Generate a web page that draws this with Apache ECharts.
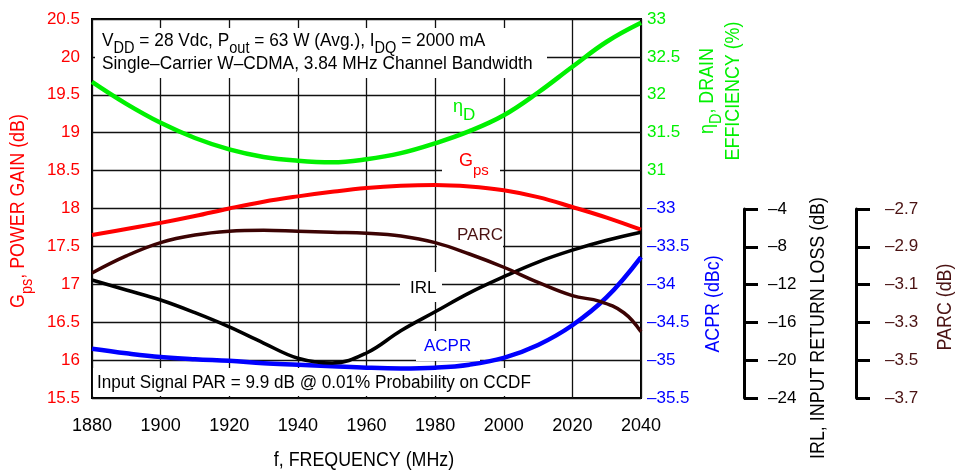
<!DOCTYPE html>
<html><head><meta charset="utf-8">
<script src="https://cdn.jsdelivr.net/npm/echarts@6/dist/echarts.min.js"></script>
<style>html,body{margin:0;padding:0;background:#fff}#c{width:958px;height:470px}</style>
</head><body><div id="c"></div>
<script>
// ---- data ----
const freq = [1880,1890,1900,1910,1920,1930,1940,1950,1960,1970,1980,1990,2000,2010,2020,2030,2040];
const gps  = [17.65,17.73,17.81,17.90,18.00,18.09,18.16,18.22,18.27,18.30,18.31,18.29,18.24,18.15,18.02,17.88,17.72];
const eff  = [32.17,31.88,31.63,31.43,31.28,31.18,31.13,31.11,31.15,31.23,31.36,31.52,31.73,32.03,32.37,32.70,32.95];
const irl  = [-11.55,-12.6,-13.66,-15.0,-16.5,-18.2,-19.8,-20.3,-19.25,-16.9,-14.9,-12.9,-11.2,-9.65,-8.4,-7.35,-6.5];
const acpr = [-34.85,-34.91,-34.96,-34.99,-35.01,-35.04,-35.06,-35.08,-35.10,-35.11,-35.10,-35.06,-34.97,-34.80,-34.54,-34.17,-33.64];
const parcFreq = [1880,1890,1900,1910,1920,1930,1940,1950,1960,1970,1980,1990,2000,2010,2020,2028,2035,2040];
const parc = [-3.04,-2.95,-2.88,-2.84,-2.82,-2.815,-2.82,-2.825,-2.83,-2.845,-2.88,-2.94,-3.01,-3.09,-3.16,-3.19,-3.25,-3.35];
const xTicks = [1880,1900,1920,1940,1960,1980,2000,2020,2040];
const irlTicks = [-24,-20,-16,-12,-8,-4];
const parcTicks = [-3.7,-3.5,-3.3,-3.1,-2.9,-2.7];

const RED='#ff0000', GREEN='#00f000', BLUE='#0000ff', BROWN='#3c0303', BROWNT='#4a1212';
const FONT='Liberation Sans, Arial, sans-serif';
const pair = (xs, ys) => xs.map((x,i)=>[x, ys[i]]);
const neg = v => (v<0?'\u2013':'') + Math.abs(v);

const chart = echarts.init(document.getElementById('c'), null, {renderer:'canvas'});
const lbl = (color, extra) => Object.assign({color, fontFamily:FONT, fontSize:17}, extra||{});
const subRich = (color, n, s, lh) => ({
  n:{fontFamily:FONT,fontSize:n,fill:color,lineHeight:lh,verticalAlign:'top'},
  s:{fontFamily:FONT,fontSize:s,fill:color,lineHeight:s,verticalAlign:'bottom'}
});
const TS = 0.85; // horizontal condensing of title text
const title = (x, y, text, color, rot) => ({type:'text', z:4, x, y, rotation: rot?Math.PI/2:0, scaleX:TS,
  style:{text, font:'21px '+FONT, fill:color, align:'center', verticalAlign:'middle'}});

const option = {
  animation:false,
  grid:[
    {left:92, right:317, top:19, bottom:72, show:true, borderColor:'#000', borderWidth:2, backgroundColor:'transparent'},
    {left:744, width:1, top:209, bottom:72},
    {left:856, width:1, top:209, bottom:72}
  ],
  xAxis:[
    {gridIndex:0, type:'value', min:xTicks[0], max:xTicks[xTicks.length-1], interval:20,
     axisLine:{show:false}, axisTick:{show:false},
     axisLabel:lbl('#000',{margin:19, fontSize:18, formatter:v=>String(v)}),
     splitLine:{show:true, lineStyle:{color:'#111', width:1.3}}},
    {gridIndex:1, type:'value', show:false, min:0, max:1},
    {gridIndex:2, type:'value', show:false, min:0, max:1}
  ],
  yAxis:[
    {gridIndex:0, type:'value', position:'left', min:15.5, max:20.5, interval:0.5,
     axisLine:{show:false}, axisTick:{show:false},
     axisLabel:lbl(RED,{margin:12, formatter:v=>String(v)}),
     splitLine:{show:true, lineStyle:{color:'#111', width:1.3}}},
    {gridIndex:0, type:'value', position:'right', min:28, max:33, interval:0.5,
     axisLine:{show:false}, axisTick:{show:false}, splitLine:{show:false},
     axisLabel:lbl(GREEN,{margin:6, formatter:v=> v>=30.999 ? String(v) : ''})},
    {gridIndex:0, type:'value', position:'right', min:-35.5, max:-30.5, interval:0.5,
     axisLine:{show:false}, axisTick:{show:false}, splitLine:{show:false},
     axisLabel:lbl(BLUE,{margin:6, formatter:v=> v<=-32.999 ? neg(v) : ''})},
    {gridIndex:0, type:'value', show:false, min:-24, max:16},
    {gridIndex:0, type:'value', show:false, min:-3.7, max:-1.7},
    {gridIndex:1, type:'value', position:'right', min:irlTicks[0], max:irlTicks[irlTicks.length-1], interval:4,
     axisLine:{show:true, lineStyle:{color:'#000', width:3}},
     axisTick:{show:true, length:14, lineStyle:{color:'#000', width:3}},
     splitLine:{show:false},
     axisLabel:lbl('#000',{margin:23, formatter:v=>neg(v)})},
    {gridIndex:2, type:'value', position:'right', min:parcTicks[0], max:parcTicks[parcTicks.length-1], interval:0.2,
     axisLine:{show:true, lineStyle:{color:'#000', width:3}},
     axisTick:{show:true, length:14, lineStyle:{color:'#000', width:3}},
     splitLine:{show:false},
     axisLabel:lbl(BROWNT,{margin:28, formatter:v=>(v<0?'\u2013':'')+Math.abs(v).toFixed(1)})}
  ],
  series:[
    {type:'line', name:'Gps', xAxisIndex:0, yAxisIndex:0, data:pair(freq,gps), smooth:0.4, showSymbol:false, lineStyle:{color:RED, width:4}, z:5},
    {type:'line', name:'Eff', xAxisIndex:0, yAxisIndex:1, data:pair(freq,eff), smooth:0.4, showSymbol:false, lineStyle:{color:GREEN, width:4.5}, z:5},
    {type:'line', name:'ACPR', xAxisIndex:0, yAxisIndex:2, data:pair(freq,acpr), smooth:0.4, showSymbol:false, lineStyle:{color:BLUE, width:4.5}, z:5},
    {type:'line', name:'IRL', xAxisIndex:0, yAxisIndex:3, data:pair(freq,irl), smooth:0.4, showSymbol:false, lineStyle:{color:'#000', width:3.5}, z:5},
    {type:'line', name:'PARC', xAxisIndex:0, yAxisIndex:4, data:pair(parcFreq,parc), smooth:0.4, showSymbol:false, lineStyle:{color:BROWN, width:3.5}, z:5}
  ],
  graphic:[
    // white label boxes hiding grid lines
    {type:'rect', z:3, shape:{x:95,y:28,width:452,height:50}, style:{fill:'#fff'}},
    {type:'rect', z:3, shape:{x:445,y:98,width:37,height:24}, style:{fill:'#fff'}},
    {type:'rect', z:3, shape:{x:442,y:153,width:58,height:27}, style:{fill:'#fff'}},
    {type:'rect', z:3, shape:{x:437,y:214,width:66,height:38}, style:{fill:'#fff'}},
    {type:'rect', z:3, shape:{x:400,y:272,width:42,height:30}, style:{fill:'#fff'}},
    {type:'rect', z:3, shape:{x:416,y:331,width:64,height:30}, style:{fill:'#fff'}},
    {type:'rect', z:3, shape:{x:93,y:368,width:452,height:28}, style:{fill:'#fff'}},
    // annotation texts
    {type:'text', z:4, x:102, y:31, scaleX:0.91, style:{text:'{n|V}{s|DD}{n| = 28 Vdc, P}{s|out}{n| = 63 W (Avg.), I}{s|DQ}{n| = 2000 mA}',
      rich:subRich('#000',19,16,26)}},
    {type:'text', z:4, x:102, y:54, scaleX:0.91, style:{text:'Single\u2013Carrier W\u2013CDMA, 3.84 MHz Channel Bandwidth', font:'19px '+FONT, fill:'#000'}},
    {type:'text', z:4, x:97, y:374, scaleX:0.95, style:{text:'Input Signal PAR = 9.9 dB @ 0.01% Probability on CCDF', font:'18px '+FONT, fill:'#000'}},
    {type:'text', z:4, x:453, y:98, style:{text:'{n|\u03b7}{s|D}', rich:subRich(GREEN,18,17,26)}},
    {type:'text', z:4, x:459, y:152, style:{text:'{n|G}{s|ps}', rich:subRich(RED,18,15,26)}},
    {type:'text', z:4, x:457, y:227, style:{text:'PARC', font:'17px '+FONT, fill:BROWNT}},
    {type:'text', z:4, x:410, y:280, style:{text:'IRL', font:'17px '+FONT, fill:'#000'}},
    {type:'text', z:4, x:424, y:338, style:{text:'ACPR', font:'17px '+FONT, fill:BLUE}},
    // axis titles
    {type:'text', z:4, x:22, y:211, rotation:Math.PI/2, scaleX:TS, style:{text:'{n|G}{s|ps}{n|, POWER GAIN (dB)}', align:'center', verticalAlign:'middle',
      rich:subRich(RED,21,17,28)}},
    {type:'text', z:4, x:711, y:91, rotation:Math.PI/2, scaleX:TS, style:{text:'{n|\u03b7}{s|D}{n|, DRAIN}', align:'center', verticalAlign:'middle',
      rich:subRich(GREEN,21,17,28)}},
    title(733, 91, 'EFFICIENCY (%)', GREEN, true),
    title(713, 304, 'ACPR (dBc)', BLUE, true),
    title(818, 328, 'IRL, INPUT RETURN LOSS (dB)', '#000', true),
    title(945, 307, 'PARC (dB)', BROWNT, true),
    title(364, 460, 'f, FREQUENCY (MHz)', '#000', false)
  ]
};
chart.setOption(option);
</script></body></html>
